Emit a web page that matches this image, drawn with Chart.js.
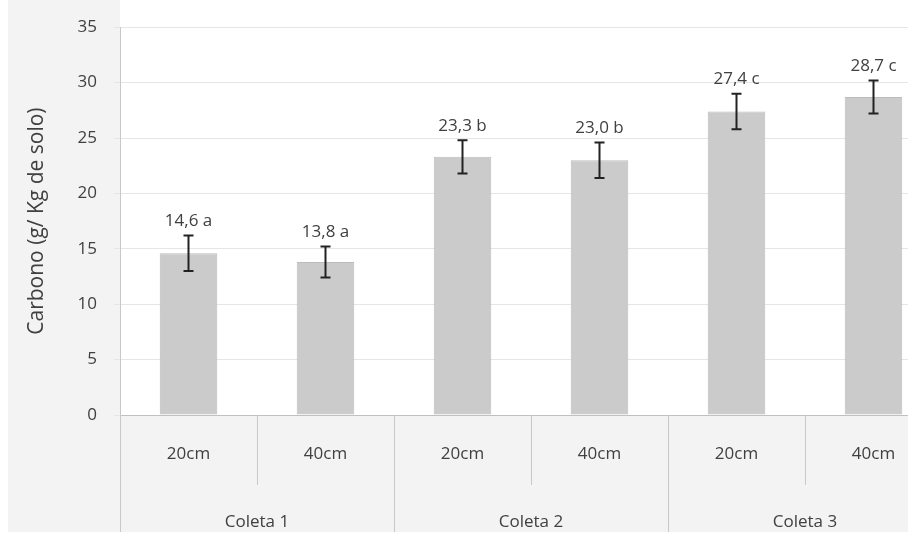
<!DOCTYPE html>
<html>
<head>
<meta charset="utf-8">
<script src="https://cdn.jsdelivr.net/npm/chart.js@4.4.1/dist/chart.umd.min.js"></script>
<style>
  html, body { margin: 0; padding: 0; background: #fff; overflow: hidden; }
  #wrap { width: 945px; height: 536px; }
</style>
</head>
<body>
<div id="wrap"><canvas id="chart" width="945" height="536"></canvas></div>
<script>
// dados
const depths = ['20cm', '40cm', '20cm', '40cm', '20cm', '40cm'];
const groups = ['Coleta 1', 'Coleta 2', 'Coleta 3'];
const carbono = [14.6, 13.8, 23.3, 23.0, 27.4, 28.7];
const erro = [1.6, 1.4, 1.5, 1.6, 1.6, 1.5];
const letras = ['a', 'a', 'b', 'b', 'c', 'c'];
const yTicks = [0, 5, 10, 15, 20, 25, 30, 35];

const textColor = '#404040';
const fontFamily = "'Open Sans', 'DejaVu Sans', sans-serif";

// fundo cinza claro + área do gráfico branca
const backgroundPlugin = {
  id: 'fundo',
  beforeDraw(chart) {
    const { ctx, chartArea } = chart;
    ctx.save();
    ctx.fillStyle = '#f3f3f3';
    ctx.fillRect(8, 0, chart.width - 8, chart.height - 4);
    ctx.fillStyle = '#ffffff';
    ctx.fillRect(chartArea.left, 0, chart.width - chartArea.left, chartArea.bottom);
    ctx.restore();
  }
};

// barras de erro e rótulos de valor
const errorBarPlugin = {
  id: 'erros',
  afterDatasetsDraw(chart) {
    const { ctx } = chart;
    const meta = chart.getDatasetMeta(0);
    const y = chart.scales.y;
    ctx.save();
    meta.data.forEach((bar, i) => {
      const top = y.getPixelForValue(carbono[i] + erro[i]);
      const bot = y.getPixelForValue(carbono[i] - erro[i]);
      ctx.strokeStyle = '#222';
      ctx.lineWidth = 2;
      ctx.beginPath();
      ctx.moveTo(bar.x, top); ctx.lineTo(bar.x, bot);
      ctx.moveTo(bar.x - 5, top); ctx.lineTo(bar.x + 5, top);
      ctx.moveTo(bar.x - 5, bot); ctx.lineTo(bar.x + 5, bot);
      ctx.stroke();
      ctx.fillStyle = textColor;
      ctx.font = '17px ' + fontFamily;
      ctx.textAlign = 'center';
      ctx.textBaseline = 'bottom';
      const txt = carbono[i].toFixed(1).replace('.', ',') + ' ' + letras[i];
      ctx.fillText(txt, bar.x, top - 6);
    });
    ctx.restore();
  }
};

// eixo x em dois níveis: separadores e nomes das coletas
const groupAxisPlugin = {
  id: 'grupos',
  afterDraw(chart) {
    const { ctx, chartArea } = chart;
    const x = chart.scales.x;
    const step = x.getPixelForValue(1) - x.getPixelForValue(0);
    ctx.save();
    ctx.strokeStyle = '#c8c8c8';
    ctx.lineWidth = 1;
    // linha do eixo y prolongada
    ctx.beginPath();
    ctx.moveTo(chartArea.left + 0.5, chartArea.top);
    ctx.lineTo(chartArea.left + 0.5, chart.height - 4);
    ctx.stroke();
    for (let i = 1; i < depths.length; i++) {
      const px = Math.round(x.getPixelForValue(i) - step / 2) + 0.5;
      const longa = i % 2 === 0;
      ctx.beginPath();
      ctx.moveTo(px, chartArea.bottom);
      ctx.lineTo(px, longa ? chart.height - 4 : chartArea.bottom + 70);
      ctx.stroke();
    }
    ctx.fillStyle = textColor;
    ctx.font = '17px ' + fontFamily;
    ctx.textAlign = 'center';
    ctx.textBaseline = 'middle';
    groups.forEach((g, gi) => {
      const cx = (x.getPixelForValue(gi * 2) + x.getPixelForValue(gi * 2 + 1)) / 2;
      ctx.fillText(g, cx, chartArea.bottom + 107);
    });
    ctx.restore();
  }
};

new Chart(document.getElementById('chart'), {
  type: 'bar',
  data: {
    labels: depths,
    datasets: [{
      data: carbono,
      backgroundColor: '#cbcbcb',
      borderColor: '#bcbcbc',
      borderWidth: 1,
      barPercentage: 0.42,
      categoryPercentage: 1
    }]
  },
  options: {
    responsive: false,
    animation: false,
    layout: { padding: { top: 21, right: 3, left: 0, bottom: 0 } },
    plugins: { legend: { display: false }, tooltip: { enabled: false } },
    scales: {
      x: {
        grid: { display: false, drawTicks: false },
        border: { color: '#c0c0c0' },
        ticks: { color: textColor, font: { size: 17, family: fontFamily }, padding: 29 },
        afterFit(scale) { scale.height = 121; }
      },
      y: {
        min: 0, max: 35,
        afterBuildTicks(scale) { scale.ticks = yTicks.map(v => ({ value: v })); },
        grid: { color: '#e6e6e6', tickLength: 6 },
        border: { display: false },
        ticks: { color: textColor, font: { size: 17, family: fontFamily }, padding: 17 },
        title: {
          display: true,
          text: 'Carbono (g/ Kg de solo)',
          color: textColor,
          font: { size: 21, family: fontFamily },
          padding: { top: 24, bottom: 0 }
        },
        afterFit(scale) { scale.width = 120; }
      }
    }
  },
  plugins: [backgroundPlugin, errorBarPlugin, groupAxisPlugin]
});
</script>
</body>
</html>
